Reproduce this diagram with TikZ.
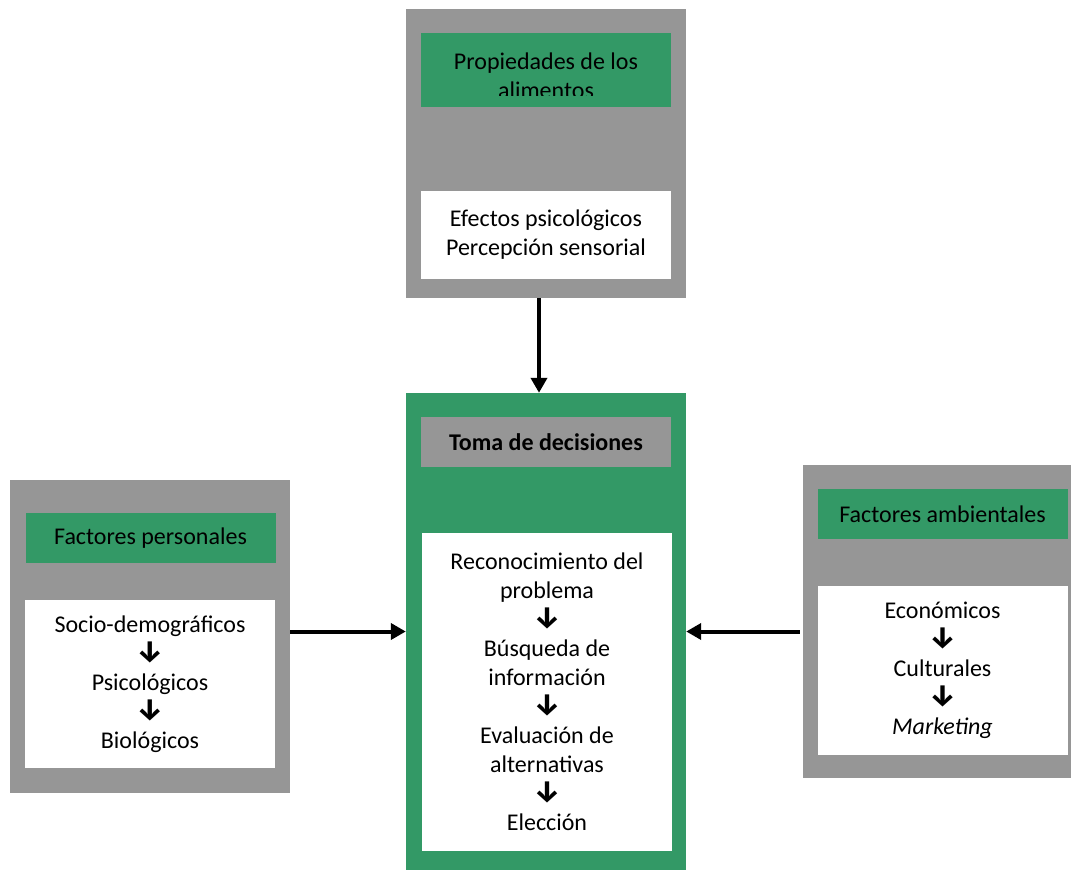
\documentclass[tikz,border=0pt]{standalone}
\usepackage{fontspec}
\setmainfont{Carlito}
\newfontfamily\arrowfont{Fira Sans}
\usetikzlibrary{arrows.meta}
\definecolor{boxgreen}{RGB}{51,153,102}
\definecolor{boxgray}{RGB}{150,150,150}
\newcommand{\dn}{{\arrowfont\bfseries\fontsize{30}{29}\selectfont\char"2193}}
\tikzset{
  outerbox/.style={fill=#1, inner sep=0pt, minimum width=280pt},
  headbox/.style={fill=#1, inner sep=0pt, minimum width=250pt, align=center},
  listbox/.style={fill=white, inner sep=0pt, minimum width=250pt, align=center},
  flow/.style={line width=4pt, -{Triangle[length=15pt,width=16pt]}}
}
\begin{document}
\begin{tikzpicture}[x=1pt,y=-1pt,
    every node/.style={font=\fontsize{24}{29}\selectfont}]
  \useasboundingbox (0,0) rectangle (1071,870);
  % frames
  \node[outerbox=boxgray, minimum height=289pt] (props) at (546,153.5) {};
  \node[outerbox=boxgreen, minimum height=477pt] (toma) at (546,631.5) {};
  \node[outerbox=boxgray, minimum height=313pt] (pers) at (150,636.5) {};
  \node[outerbox=boxgray, minimum height=313pt] (amb) at (943,621.5) {};
  % headers
  \node[headbox=boxgreen, minimum height=74pt,
    path picture={
      \clip (path picture bounding box.north west)
        rectangle ([yshift=12pt]path picture bounding box.south east);
      \node[anchor=north, align=center, inner sep=0pt]
        at ([yshift=-6pt]path picture bounding box.north)
        {Propiedades de los\\alimentos};}] (propshead) at (546,70) {};
  \node[headbox=boxgray, minimum height=50pt] (tomahead) at (546,442)
    {\bfseries Toma de decisiones};
  \node[headbox=boxgreen, minimum height=50pt] (pershead) at (150.5,538)
    {Factores personales};
  \node[headbox=boxgreen, minimum height=50pt] (ambhead) at (942.5,514)
    {Factores ambientales};
  % lists
  \node[listbox, minimum height=88pt] (propslist) at (546,235)
    {Efectos psicológicos\\Percepción sensorial};
  \node[listbox, minimum height=318pt] (tomalist) at (547,692)
    {Reconocimiento del\\problema\\\dn\\Búsqueda de\\información\\\dn\\Evaluación de\\alternativas\\\dn\\Elección};
  \node[listbox, minimum height=168pt] (perslist) at (150,684)
    {Socio-demográficos\\\dn\\Psicológicos\\\dn\\Biológicos};
  \node[listbox, minimum height=169pt] (amblist) at (942.5,670.5)
    {Económicos\\\dn\\Culturales\\\dn\\\textit{Marketing}};
  % links
  \draw[flow] ([xshift=-7pt]props.south) to ([xshift=-7pt]toma.north);
  \draw[flow] (pers.east |- toma.west) to (toma.west);
  \draw[flow] ([xshift=-3pt]amb.west |- toma.east) to (toma.east);
\end{tikzpicture}
\end{document}
